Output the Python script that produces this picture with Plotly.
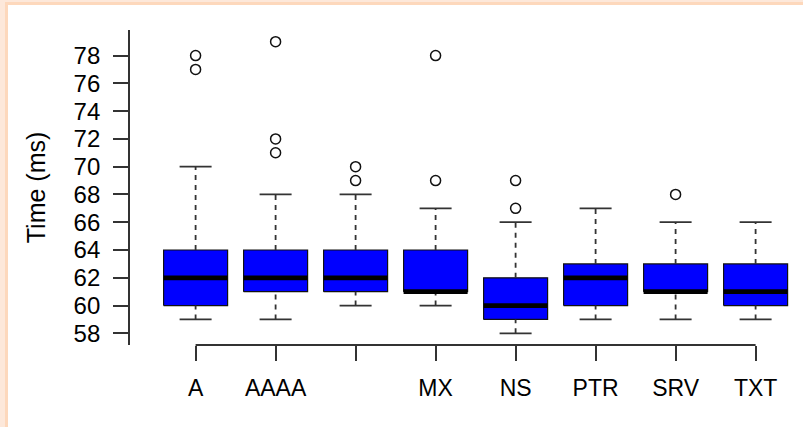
import plotly.graph_objects as go

# ---- data ----
categories = ["A", "AAAA", "", "MX", "NS", "PTR", "SRV", "TXT"]
lower_whisker = [59, 59, 60, 60, 58, 59, 59, 59]
q1_values = [60, 61, 61, 61, 59, 60, 61, 60]
median_values = [62, 62, 62, 61, 60, 62, 61, 61]
q3_values = [64, 64, 64, 64, 62, 63, 63, 63]
upper_whisker = [70, 68, 68, 67, 66, 67, 66, 66]
outliers = [[77, 78], [71, 72, 79], [69, 70], [69, 78], [67, 69], [], [68], []]
y_ticks = [58, 60, 62, 64, 66, 68, 70, 72, 74, 76, 78]

W, H = 803, 427
ML, MR, MT, MB = 130, 0, 30, 82
BOX_HALF = 0.4
STAPLE_HALF = 0.2
FONT = "Liberation Sans, Arial, Helvetica, sans-serif"

pos = list(range(1, len(categories) + 1))

fig = go.Figure()

# boxes
bx, by = [], []
for p, a, b in zip(pos, q1_values, q3_values):
    bx += [p - BOX_HALF, p + BOX_HALF, p + BOX_HALF, p - BOX_HALF, p - BOX_HALF, None]
    by += [a, a, b, b, a, None]
fig.add_trace(go.Scatter(x=bx, y=by, mode="lines", fill="toself", fillcolor="#0000ff",
                         line=dict(color="#111111", width=1.2), hoverinfo="skip"))

# whiskers (dashed)
wx, wy = [], []
for p, lo, a, b, hi in zip(pos, lower_whisker, q1_values, q3_values, upper_whisker):
    wx += [p, p, None, p, p, None]
    wy += [lo, a, None, b, hi, None]
fig.add_trace(go.Scatter(x=wx, y=wy, mode="lines",
                         line=dict(color="#333333", width=1.8, dash="5px,5px"), hoverinfo="skip"))

# staples
sx, sy = [], []
for p, lo, hi in zip(pos, lower_whisker, upper_whisker):
    sx += [p - STAPLE_HALF, p + STAPLE_HALF, None, p - STAPLE_HALF, p + STAPLE_HALF, None]
    sy += [lo, lo, None, hi, hi, None]
fig.add_trace(go.Scatter(x=sx, y=sy, mode="lines",
                         line=dict(color="#333333", width=1.8), hoverinfo="skip"))

# medians
mx, my = [], []
for p, m in zip(pos, median_values):
    mx += [p - BOX_HALF, p + BOX_HALF, None]
    my += [m, m, None]
fig.add_trace(go.Scatter(x=mx, y=my, mode="lines",
                         line=dict(color="#000000", width=4.8), hoverinfo="skip"))

# outliers
ox, oy = [], []
for p, outs in zip(pos, outliers):
    for v in outs:
        ox.append(p)
        oy.append(v)
fig.add_trace(go.Scatter(x=ox, y=oy, mode="markers",
                         marker=dict(symbol="circle-open", size=10, color="#111111",
                                     line=dict(width=1.5, color="#111111")),
                         hoverinfo="skip"))

# x axis line from first to last category (R style)
fig.add_shape(type="line", xref="x", yref="paper", x0=pos[0], x1=pos[-1], y0=0, y1=0,
              line=dict(color="#333333", width=1.8))

# peach frame on left and top edges
pw = W - ML - MR
ph = H - MT - MB
def px(p):
    return (p - ML) / pw
def py(q):
    return (H - MB - q) / ph

frame = [
    (0, 0, 8, H, "#fde8da"),
    (5, 5, 8, H, "#fdd8bc"),
    (0, 0, W, 5, "#fde8da"),
    (5, 2, W, 5, "#fdd8bc"),
]
for x0, y0, x1, y1, c in frame:
    fig.add_shape(type="rect", xref="paper", yref="paper",
                  x0=px(x0), x1=px(x1), y0=py(y1), y1=py(y0),
                  fillcolor=c, line=dict(width=0), layer="below")

fig.update_layout(
    width=W, height=H,
    margin=dict(l=ML, r=MR, t=MT, b=MB, autoexpand=False),
    paper_bgcolor="white", plot_bgcolor="white",
    showlegend=False,
    font=dict(family=FONT, size=23, color="#000000"),
    xaxis=dict(range=[0.18, 0.18 + pw / 80.0], tickmode="array", tickvals=pos, ticktext=categories,
               ticks="outside", ticklen=15, tickwidth=1.8, tickcolor="#333333",
               showline=False, showgrid=False, zeroline=False, ticklabelstandoff=7,
               tickfont=dict(size=23)),
    yaxis=dict(range=[57.16, 79.84], tickmode="array", tickvals=y_ticks,
               ticktext=[str(v) for v in y_ticks],
               ticks="outside", ticklen=15, tickwidth=1.8, tickcolor="#333333",
               showline=True, linecolor="#333333", linewidth=1.8,
               showgrid=False, zeroline=False, ticklabelstandoff=8,
               tickfont=dict(size=24),
               title=dict(text="Time (ms)", font=dict(size=25), standoff=21)),
)

fig.write_html("out.html", config={"displayModeBar": False},
               post_script="document.body.style.margin='0';document.body.style.overflow='hidden';")
